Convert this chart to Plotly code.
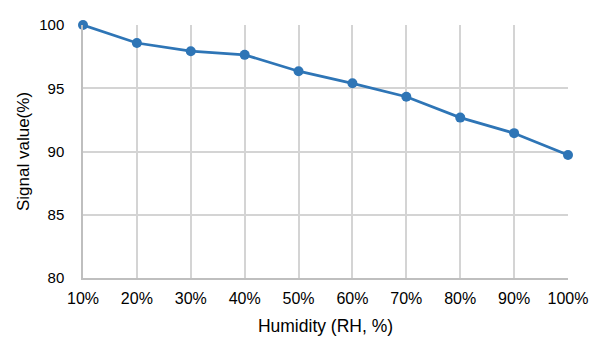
import plotly.graph_objects as go

humidity = ["10%", "20%", "30%", "40%", "50%", "60%", "70%", "80%", "90%", "100%"]
signal = [100.0, 98.58, 97.93, 97.64, 96.35, 95.39, 94.33, 92.68, 91.45, 89.72]
y_ticks = [80, 85, 90, 95, 100]

fig = go.Figure()
fig.add_trace(go.Scatter(
    x=humidity, y=signal, mode="lines+markers",
    line=dict(color="#2E75B6", width=2.7),
    marker=dict(color="#2E75B6", size=10),
    showlegend=False, cliponaxis=False,
))

fam = "Liberation Sans, Arial, sans-serif"
fig.update_layout(
    width=600, height=346,
    margin=dict(l=83, r=30, t=25, b=68),
    paper_bgcolor="white", plot_bgcolor="white",
    font=dict(family=fam, size=15, color="#000000"),
)
fig.update_xaxes(
    type="category", range=[0, 9],
    showgrid=True, gridcolor="#D4D4D4", gridwidth=1.5,
    showline=True, linecolor="#BFBFBF", linewidth=1.5,
    ticks="", ticklabelstandoff=5,
    tickfont=dict(family=fam, size=16, color="#000000"),
    title=dict(text="Humidity (RH, %)", standoff=14,
               font=dict(family=fam, size=17.5, color="#000000")),
    zeroline=False,
)
fig.update_yaxes(
    range=[80, 100], tickvals=y_ticks,
    showgrid=True, gridcolor="#D4D4D4", gridwidth=1.5,
    showline=True, linecolor="#BFBFBF", linewidth=1.5,
    ticks="", ticklabelstandoff=14,
    tickfont=dict(family=fam, size=15, color="#000000"),
    title=dict(text="Signal value(%)", standoff=5,
               font=dict(family=fam, size=17, color="#000000")),
    zeroline=False,
)
fig.write_html("out.html")
